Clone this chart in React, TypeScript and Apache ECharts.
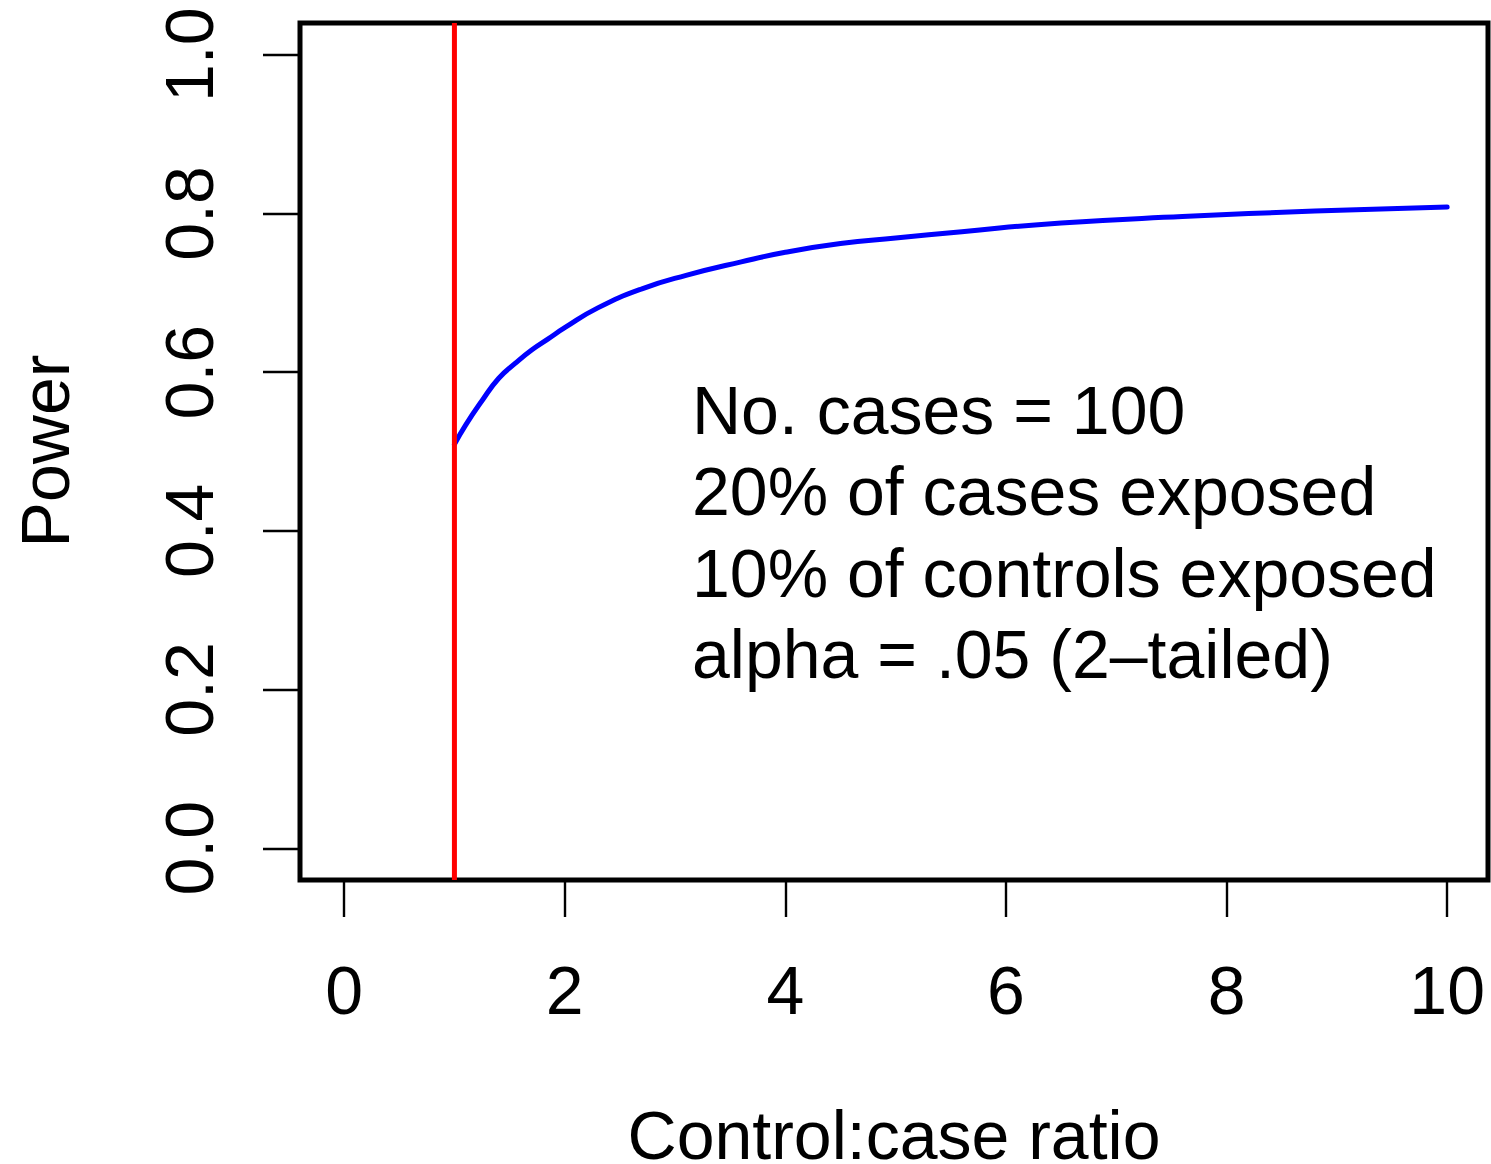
import { useEffect, useRef } from "react";
import * as echarts from "echarts";

// ---- data ----
const ratios = [1, 1.1, 1.25, 1.4, 1.55, 1.7, 1.85, 2, 2.3, 2.7, 3.1, 3.6, 4, 4.5, 5, 5.6, 6.5, 7.6, 8.8, 10];
const power = [0.509, 0.533, 0.564, 0.592, 0.611, 0.628, 0.642, 0.656, 0.681, 0.705, 0.722, 0.739, 0.751, 0.762, 0.769, 0.777, 0.788, 0.796, 0.803, 0.808];
const xTicks = [0, 2, 4, 6, 8, 10];
const yTicks = [0, 0.2, 0.4, 0.6, 0.8, 1.0];
const referenceRatio = 1;
const annotationLines = [
  "No. cases = 100",
  "20% of cases exposed",
  "10% of controls exposed",
  "alpha = .05 (2\u2013tailed)",
];
const xTitle = "Control:case ratio";
const yTitle = "Power";

const X_MIN = -0.4;
const X_MAX = 10.37;
const Y_MIN = -0.04;
const Y_MAX = 1.04;

const FONT = "'Liberation Sans', Arial, Helvetica, sans-serif";
const FS = 68;

export default function App() {
  const ref = useRef<HTMLDivElement>(null);

  useEffect(() => {
    if (!ref.current) return;
    const chart = echarts.init(ref.current, null, { renderer: "svg" });

    const curve = ratios.map((r, i) => [r, power[i]]);
    const redLine = [
      [referenceRatio, Y_MIN],
      [referenceRatio, Y_MAX],
    ];

    chart.setOption({
      animation: false,
      backgroundColor: "#ffffff",
      grid: {
        left: 300,
        top: 23,
        width: 1188,
        height: 857,
        show: true,
        borderColor: "#000000",
        borderWidth: 5,
        backgroundColor: "transparent",
        containLabel: false,
      },
      xAxis: {
        type: "value",
        min: X_MIN,
        max: X_MAX,
        axisLine: { show: false, onZero: false },
        splitLine: { show: false },
        axisTick: {
          show: true,
          customValues: xTicks,
          length: 37,
          inside: false,
          lineStyle: { color: "#000000", width: 2.4 },
        },
        axisLabel: {
          show: true,
          customValues: xTicks,
          margin: 76,
          fontSize: FS,
          lineHeight: FS,
          fontFamily: FONT,
          color: "#000000",
          formatter: (v: number) => String(v),
        },
      },
      yAxis: {
        type: "value",
        min: Y_MIN,
        max: Y_MAX,
        axisLine: { show: false, onZero: false },
        splitLine: { show: false },
        axisTick: {
          show: true,
          customValues: yTicks,
          length: 37,
          inside: false,
          lineStyle: { color: "#000000", width: 2.4 },
        },
        axisLabel: {
          show: true,
          customValues: yTicks,
          rotate: 90,
          margin: 77,
          fontSize: FS,
          lineHeight: FS,
          fontFamily: FONT,
          color: "#000000",
          formatter: (v: number) => v.toFixed(1),
        },
      },
      series: [
        {
          type: "line",
          data: curve,
          smooth: 0.5,
          showSymbol: false,
          symbol: "none",
          clip: true,
          lineStyle: { color: "#0000ff", width: 5, cap: "round", join: "round" },
          z: 3,
        },
        {
          type: "line",
          data: redLine,
          showSymbol: false,
          symbol: "none",
          clip: true,
          lineStyle: { color: "#ff0000", width: 5 },
          z: 4,
        },
      ],
      graphic: [
        {
          type: "text",
          x: 692,
          y: 369,
          style: {
            text: annotationLines.join("\n"),
            fontSize: FS,
            lineHeight: 81.5,
            fontFamily: FONT,
            fill: "#000000",
            textAlign: "left",
            textVerticalAlign: "top",
          },
        },
        {
          type: "text",
          x: 894,
          y: 1135,
          style: {
            text: xTitle,
            fontSize: FS,
            lineHeight: 52,
            fontFamily: FONT,
            fill: "#000000",
            textAlign: "center",
            textVerticalAlign: "middle",
          },
        },
        {
          type: "text",
          x: 45,
          y: 451,
          rotation: Math.PI / 2,
          style: {
            text: yTitle,
            fontSize: FS,
            fontFamily: FONT,
            fill: "#000000",
            textAlign: "center",
            textVerticalAlign: "middle",
          },
        },
      ],
    });

    return () => {
      chart.dispose();
    };
  }, []);

  return (
    <div
      ref={ref}
      style={{ position: "absolute", left: 0, top: 0, width: 1491, height: 1164 }}
    />
  );
}
